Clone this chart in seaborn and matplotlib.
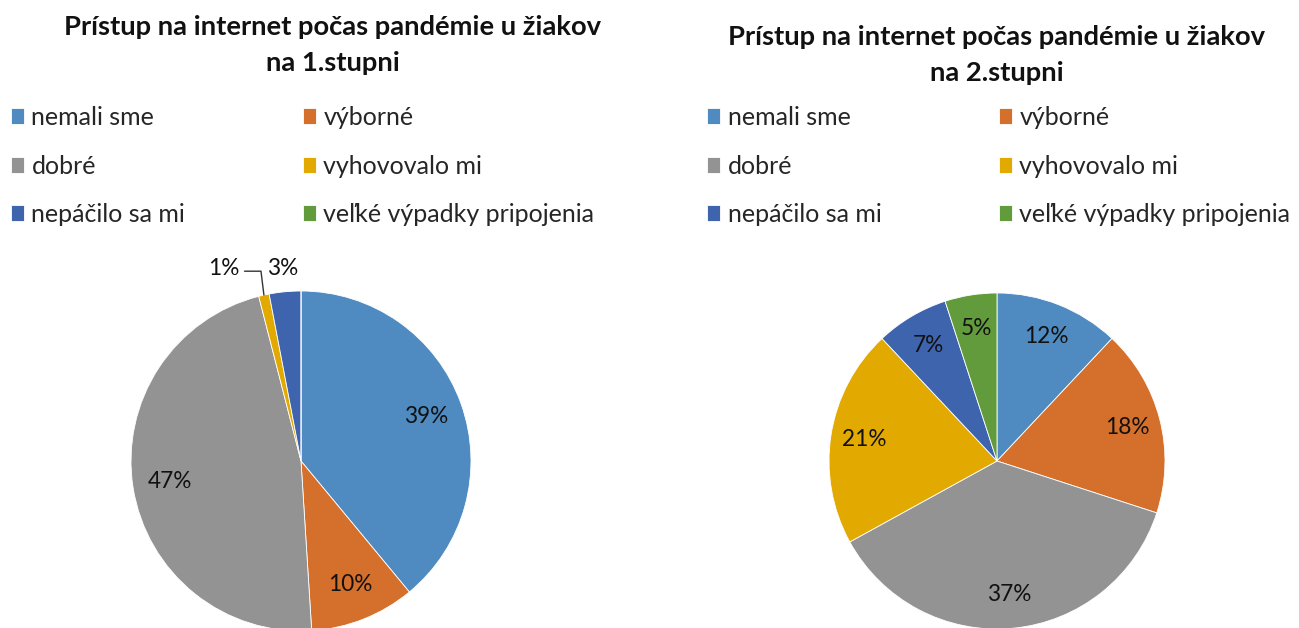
import matplotlib
matplotlib.use("Agg")
import matplotlib.pyplot as plt
import seaborn as sns
import numpy as np

categories = ["nemali sme", "výborné", "dobré", "vyhovovalo mi", "nepáčilo sa mi", "veľké výpadky pripojenia"]
values_1 = [39, 10, 47, 1, 3, 0]
values_2 = [12, 18, 37, 21, 7, 5]
title_1 = "Prístup na internet počas pandémie u žiakov\nna 1.stupni"
title_2 = "Prístup na internet počas pandémie u žiakov\nna 2.stupni"
colors = ["#4F8BC0", "#D46F2C", "#939393", "#E2A900", "#3E64AD", "#629B3C"]

sns.set_theme(style="white")
plt.rcParams["font.family"] = ["Lato", "DejaVu Sans"]

W, H = 1299, 628
fig = plt.figure(figsize=(W / 100, H / 100), dpi=100)
LBL = 16.3


def px_axes(cx, cy, r):
    return fig.add_axes([(cx - r) / W, (H - cy - r) / H, 2 * r / W, 2 * r / H])


def draw_pie(ax, vals, pctdist, min_pct):
    wedges, texts, autotexts = ax.pie(
        vals, colors=colors, startangle=90, counterclock=False,
        autopct=lambda p: f"{p:.0f}%" if p >= min_pct else "",
        pctdistance=pctdist, radius=1,
        wedgeprops=dict(edgecolor="white", linewidth=0.6),
        textprops=dict(fontsize=LBL, color="#111111"))
    ax.set_xlim(-1, 1)
    ax.set_ylim(-1, 1)
    ax.set_aspect("equal")
    ax.axis("off")
    return wedges


ax1 = px_axes(301, 461, 170)
w1 = draw_pie(ax1, values_1, 0.78, 5)
ax2 = px_axes(997, 461, 168)
w2 = draw_pie(ax2, values_2, 0.80, 2)

# outside labels for small slices on the first pie
cum = np.cumsum([0] + values_1)
tot = sum(values_1)


def mid_angle(i):
    a0 = 90 - 360 * cum[i] / tot
    a1 = 90 - 360 * cum[i + 1] / tot
    return np.deg2rad((a0 + a1) / 2)


th = mid_angle(3)
ax1.annotate(f"{values_1[3]}%", xy=(np.cos(th), np.sin(th)), xytext=(-0.36, 1.135),
             ha="right", va="center", fontsize=LBL, color="#111111",
             arrowprops=dict(arrowstyle="-", color="#333333", lw=1,
                             connectionstyle="angle,angleA=0,angleB=97,rad=0",
                             relpos=(1.15, 0.35), shrinkA=0, shrinkB=0),
             annotation_clip=False)
ax1.text(-0.11, 1.135, f"{values_1[4]}%", ha="center", va="center", fontsize=LBL, color="#111111")

fig.text(333 / W, 1 - 45 / H, title_1, ha="center", va="center", fontsize=19.7,
         fontweight="bold", color="#111111", linespacing=1.62)
fig.text(997 / W, 1 - 55 / H, title_2, ha="center", va="center", fontsize=19.7,
         fontweight="bold", color="#111111", linespacing=1.62)

order = [0, 2, 4, 1, 3, 5]
for ax, wedges, x0 in [(ax1, w1, 11), (ax2, w2, 707)]:
    ax.legend([wedges[i] for i in order], [categories[i] for i in order],
              ncol=2, loc="upper left", bbox_to_anchor=(x0 / W, 1 - 106 / H),
              bbox_transform=fig.transFigure, frameon=False, fontsize=18,
              handlelength=0.52, handleheight=0.6, handletextpad=0.3,
              labelspacing=1.02, columnspacing=4.7, borderpad=0, borderaxespad=0)

fig.savefig("out.png", dpi=100, facecolor="white")
